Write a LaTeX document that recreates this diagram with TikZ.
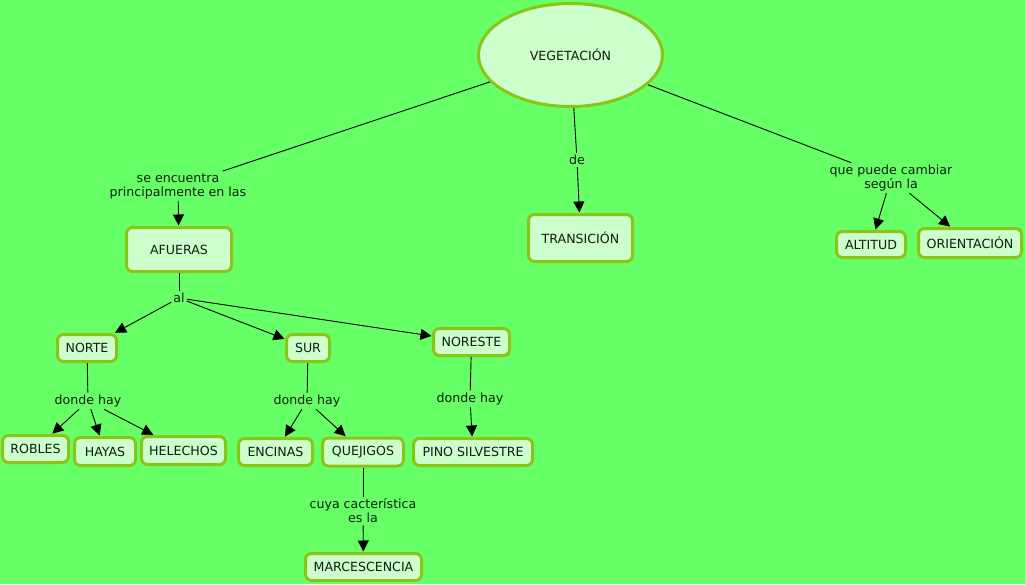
\documentclass[tikz,border=0pt]{standalone}
\usepackage{fontspec}
\setmainfont{DejaVu Sans}
\usetikzlibrary{arrows.meta,shapes.geometric}
\definecolor{bg}{RGB}{102,255,102}
\definecolor{nfill}{RGB}{204,255,204}
\definecolor{nborder}{RGB}{140,195,25}
\definecolor{txt}{RGB}{15,30,15}
\begin{document}
\begin{tikzpicture}[x=1pt,y=-1pt,
  every node/.style={text=txt,font=\fontsize{12.6}{14}\selectfont},
  concept/.style={draw=nborder,fill=nfill,line width=3pt,rounded corners=6pt,inner sep=0pt},
  oval/.style={draw=nborder,fill=nfill,line width=3pt,ellipse,inner sep=0pt},
  lbl/.style={align=center,inner sep=2pt},
  link/.style={line width=0.9pt,draw=black},
  arr/.style={link,-{Triangle[length=11pt,width=11pt]},shorten >=0.5pt}]
\fill[bg] (0,0) rectangle (1025,584);
\useasboundingbox (0,0) rectangle (1025,584);

\node[oval,minimum width=184pt,minimum height=103pt] (veg) at (570.5,55) {VEGETACIÓN};
\node[concept,minimum width=105pt,minimum height=44pt] (afu) at (179,249.5) {AFUERAS};
\node[concept,minimum width=104pt,minimum height=47pt] (tra) at (580.5,238) {TRANSICIÓN};
\node[concept,minimum width=69pt,minimum height=26pt] (alt) at (871,244.5) {ALTITUD};
\node[concept,minimum width=103pt,minimum height=29pt] (ori) at (970,243) {ORIENTACIÓN};
\node[concept,minimum width=59pt,minimum height=27pt] (nor) at (87,348) {NORTE};
\node[concept,minimum width=43pt,minimum height=27pt] (sur) at (308,348) {SUR};
\node[concept,minimum width=76pt,minimum height=27pt] (nes) at (471.5,342) {NORESTE};
\node[concept,minimum width=66pt,minimum height=27pt] (rob) at (35.5,449) {ROBLES};
\node[concept,minimum width=61pt,minimum height=28pt] (hay) at (105,451.5) {HAYAS};
\node[concept,minimum width=84pt,minimum height=28pt] (hel) at (183.5,450.5) {HELECHOS};
\node[concept,minimum width=74pt,minimum height=27pt] (enc) at (275.5,452) {ENCINAS};
\node[concept,minimum width=81pt,minimum height=28pt] (que) at (363,452) {QUEJIGOS};
\node[concept,minimum width=119pt,minimum height=27pt] (pin) at (473,452) {PINO SILVESTRE};
\node[concept,minimum width=116pt,minimum height=27pt] (mar) at (363.5,567) {MARCESCENCIA};

\node[lbl] (l1) at (178,186) {se encuentra\\principalmente en las};
\node[lbl] (l2) at (577,160) {de};
\node[lbl] (l3) at (891,178) {que puede cambiar\\según la};
\node[lbl] (l4) at (179,298) {al};
\node[lbl] (l5) at (88,401) {donde hay};
\node[lbl] (l6) at (307,401) {donde hay};
\node[lbl] (l7) at (470,399) {donde hay};
\node[lbl] (l8) at (363,511) {cuya cacterística\\es la};

\draw[link] (veg) -- (l1); \draw[arr] (l1) -- (afu);
\draw[link] (veg) -- (l2); \draw[arr] (l2) -- (tra);
\draw[link] (veg) -- (l3); \draw[arr] (l3) -- (alt); \draw[arr] (l3) -- (ori);
\draw[link] (afu) -- (l4);
\draw[arr] (l4) -- (nor); \draw[arr] (l4) -- (sur); \draw[arr] (l4) -- (nes);
\draw[link] (nor) -- (l5);
\draw[arr] (l5) -- (rob); \draw[arr] (l5) -- (hay); \draw[arr] (l5) -- (hel);
\draw[link] (sur) -- (l6);
\draw[arr] (l6) -- (enc); \draw[arr] (l6) -- (que);
\draw[link] (nes) -- (l7); \draw[arr] (l7) -- (pin);
\draw[link] (que) -- (l8); \draw[arr] (l8) -- (mar);
\end{tikzpicture}
\end{document}
